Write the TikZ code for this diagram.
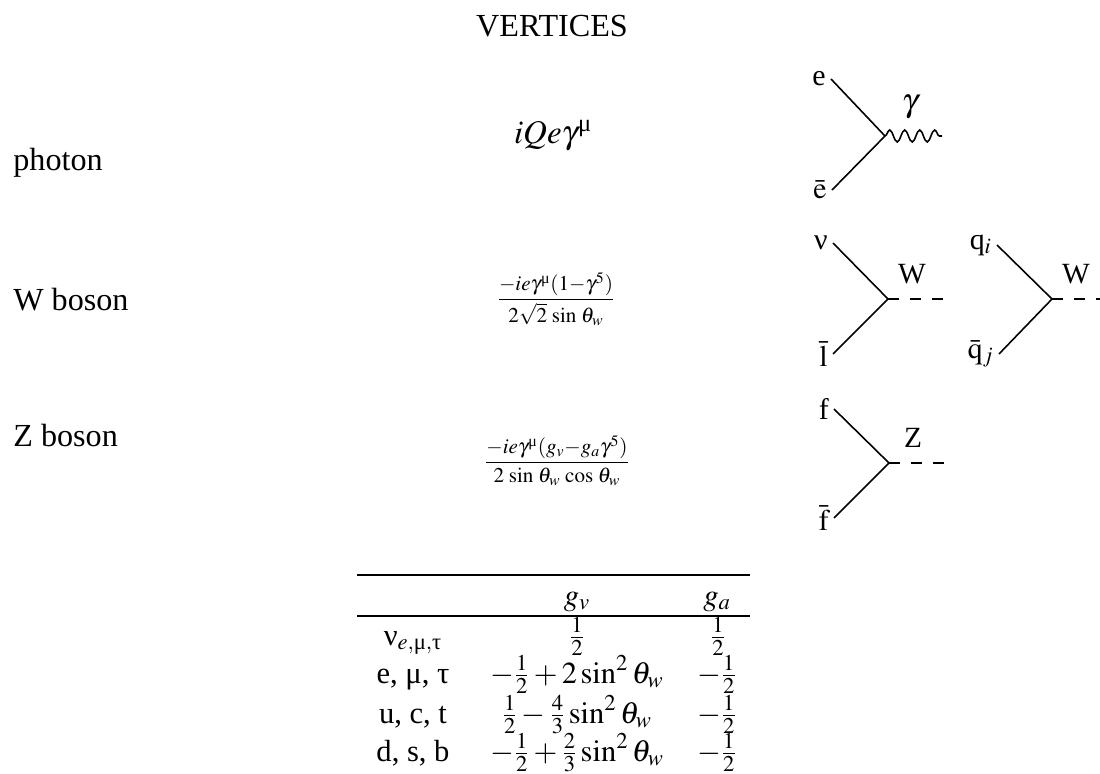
\documentclass[tikz,border=0pt]{standalone}
\usepackage{mathptmx}
\usepackage[no-math]{fontspec}
\setmainfont{Liberation Serif}
\usepackage{amsmath}
\usetikzlibrary{decorations.pathmorphing}

\newcommand{\umu}{\text{μ}}

\tikzset{
  txt/.style={inner sep=0pt, anchor=base west, font=\fontsize{18.3}{22}\selectfont},
  lab/.style={inner sep=0pt, anchor=base, font=\fontsize{16.7}{20}\selectfont},
  big/.style={inner sep=0pt, anchor=base, font=\fontsize{18.8}{22}\selectfont},
  tab/.style={inner sep=0pt, anchor=base, font=\fontsize{17.4}{20}\selectfont},
  small/.style={inner sep=0pt, anchor=base, font=\fontsize{12}{14}\selectfont},
  ferm/.style={anchor=east, inner sep=2.8pt, font=\fontsize{17}{20}\selectfont},
  line/.style={draw=black, line width=0.9pt},
  bosonW/.style={line, dash pattern=on 0.22cm off 0.22cm},
  photonW/.style={line, decorate, decoration={snake, amplitude=0.12cm, segment length=0.3cm}}
}

\begin{document}
\begin{tikzpicture}[x=0.02cm, y=-0.02cm]
  \useasboundingbox (0,0) rectangle (1100,774);

  \node[txt, anchor=base] (title) at (552,36) {VERTICES};

  % left column
  \node[txt] (photon) at (13,170) {photon};
  \node[txt] (wboson) at (13,310) {W boson};
  \node[txt] (zboson) at (13,446) {Z boson};

  % couplings
  \node[big] (coupA) at (553,143) {$iQe\gamma^{\umu}$};
  \node[small] (coupW) at (556,305) {$\displaystyle\frac{-ie\gamma^{\umu}(1{-}\gamma^{5})}{2\sqrt{2}\,\sin\,\theta_{w}}$};
  \node[small] (coupZ) at (557,468) {$\displaystyle\frac{-ie\gamma^{\umu}(g_{v}{-}g_{a}\gamma^{5})}{2\,\sin\,\theta_{w}\,\cos\,\theta_{w}}$};

  % photon vertex
  \coordinate (vA) at (885,136);
  \coordinate (endA) at (942,136);
  \node[ferm] (e) at (831,79) {e};
  \node[ferm] (ebar) at (832,190) {$\bar{\mathrm{e}}$};
  \node[big] (gam) at (910,112) {$\gamma$};
  \draw[line] (e.east) -- (vA);
  \draw[line] (ebar.east) -- (vA);
  \draw[photonW] (vA) -- (endA);

  % W vertex, leptons
  \coordinate (vB) at (888,299);
  \coordinate (endB) at (943,299);
  \node[ferm] (nu) at (833,243) {ν};
  \node[ferm] (lbar) at (833,354) {$\bar{\mathrm{l}}$};
  \node[lab] (wA) at (912,283) {W};
  \draw[line] (nu.east) -- (vB);
  \draw[line] (lbar.east) -- (vB);
  \draw[bosonW] (vB) -- (endB);

  % W vertex, quarks
  \coordinate (vC) at (1052,299);
  \coordinate (endC) at (1100,299);
  \node[ferm] (qi) at (997,245) {q$_{i}$};
  \node[ferm] (qbar) at (999,354) {$\bar{\mathrm{q}}_{j}$};
  \node[lab] (wB) at (1076,283) {W};
  \draw[line] (qi.east) -- (vC);
  \draw[line] (qbar.east) -- (vC);
  \draw[bosonW] (vC) -- (endC);

  % Z vertex
  \coordinate (vD) at (889,463);
  \coordinate (endD) at (945,463);
  \node[ferm] (f) at (834,409) {f};
  \node[ferm] (fbar) at (834,518) {$\bar{\mathrm{f}}$};
  \node[lab] (zA) at (913,447) {Z};
  \draw[line] (f.east) -- (vD);
  \draw[line] (fbar.east) -- (vD);
  \draw[bosonW] (vD) -- (endD);

  % table
  \coordinate (ruleAl) at (357,575);
  \coordinate (ruleAr) at (750,575);
  \coordinate (ruleBl) at (357,616);
  \coordinate (ruleBr) at (750,616);
  \draw[line] (ruleAl) -- (ruleAr);
  \draw[line] (ruleBl) -- (ruleBr);

  \node[tab] (gv) at (577,605) {$g_{v}$};
  \node[tab] (ga) at (717,605) {$g_{a}$};

  \node[tab] (rowA) at (413,645) {ν$_{e,\umu,\text{τ}}$};
  \node[tab] (rowB) at (413,683) {e, μ, τ};
  \node[tab] (rowC) at (413,723) {u, c, t};
  \node[tab] (rowD) at (413,761) {d, s, b};

  \node[tab] (gvA) at (577,645) {$\frac{1}{2}$};
  \node[tab] (gvB) at (577,683) {$-\frac{1}{2}+2\sin^{2}\theta_{w}$};
  \node[tab] (gvC) at (577,723) {$\frac{1}{2}-\frac{4}{3}\sin^{2}\theta_{w}$};
  \node[tab] (gvD) at (577,761) {$-\frac{1}{2}+\frac{2}{3}\sin^{2}\theta_{w}$};

  \node[tab] (gaA) at (718,645) {$\frac{1}{2}$};
  \node[tab] (gaB) at (717,683) {$-\frac{1}{2}$};
  \node[tab] (gaC) at (717,723) {$-\frac{1}{2}$};
  \node[tab] (gaD) at (717,761) {$-\frac{1}{2}$};
\end{tikzpicture}
\end{document}
